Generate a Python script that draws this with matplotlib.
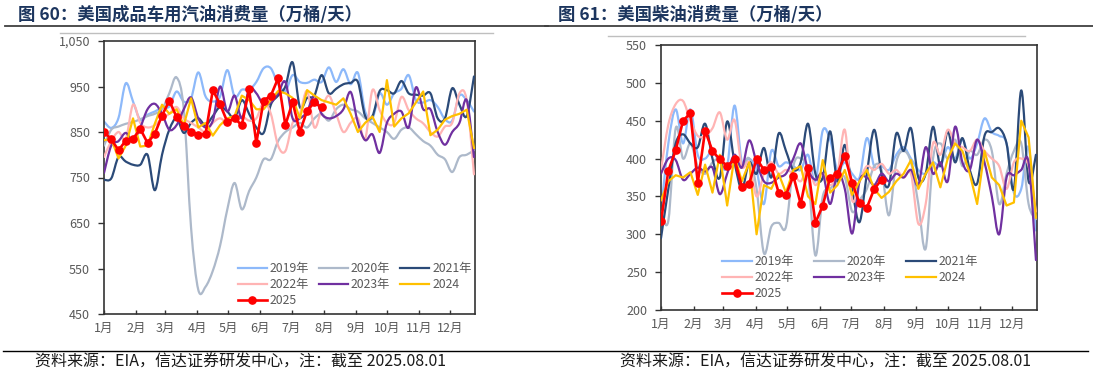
import numpy as np
import matplotlib
matplotlib.use("Agg")
import matplotlib.pyplot as plt
from matplotlib.path import Path
from matplotlib.patches import PathPatch
from matplotlib.lines import Line2D
from matplotlib.ticker import FuncFormatter

plt.rcParams['font.family'] = ['Noto Sans CJK SC', 'DejaVu Sans']

# ---------------- data ----------------
weeks = list(range(1, 53))
month_labels = ["1月", "2月", "3月", "4月", "5月", "6月", "7月", "8月", "9月", "10月", "11月", "12月"]
month_start_days = [0, 31, 59, 90, 120, 151, 181, 212, 243, 273, 304, 334]
series_names = ["2019年", "2020年", "2021年", "2022年", "2023年", "2024", "2025"]

# Gasoline (万桶/天)
gas_2019 = [873, 859, 881, 957, 917, 877, 888, 895, 903, 906, 939, 917, 924, 981, 928, 917, 928, 986,
            928, 943, 943, 960, 990, 990, 955, 940, 975, 960, 958, 965, 960, 992, 960, 988, 955, 980,
            895, 880, 935, 910, 935, 945, 975, 920, 915, 920, 905, 878, 875, 930, 920, 895]
gas_2020 = [820, 855, 862, 868, 872, 878, 885, 890, 900, 935, 970, 900, 640, 503, 510, 545, 600, 680,
            738, 680, 720, 750, 790, 790, 830, 850, 860, 870, 860, 880, 890, 875, 900, 910, 900, 895,
            880, 870, 860, 850, 835, 855, 860, 845, 830, 820, 800, 790, 762, 795, 800, 810]
gas_2021 = [745, 748, 795, 785, 778, 778, 800, 722, 800, 855, 880, 848, 870, 880, 865, 885, 905, 895,
            880, 920, 890, 860, 848, 910, 930, 950, 1003, 905, 925, 930, 975, 935, 945, 955, 958, 960,
            885, 885, 940, 942, 935, 962, 935, 932, 930, 935, 880, 880, 946, 910, 885, 972]
gas_2022 = [795, 830, 850, 835, 910, 870, 860, 865, 880, 890, 905, 880, 870, 860, 850, 870, 880, 870,
            880, 885, 875, 880, 915, 890, 820, 808, 870, 890, 940, 860, 900, 930, 890, 850, 870, 880,
            835, 942, 898, 870, 870, 927, 898, 880, 869, 850, 840, 862, 870, 935, 920, 757]
gas_2023 = [760, 820, 830, 848, 830, 860, 900, 912, 890, 855, 865, 900, 926, 880, 860, 875, 950, 895,
            930, 880, 945, 935, 910, 915, 935, 960, 880, 880, 895, 930, 890, 880, 885, 900, 938, 870,
            832, 845, 804, 870, 890, 895, 860, 948, 900, 900, 850, 822, 850, 870, 920, 795]
gas_2024 = [832, 835, 792, 820, 880, 818, 820, 868, 910, 890, 900, 865, 924, 860, 870, 842, 865, 880,
            885, 930, 920, 900, 900, 920, 940, 935, 925, 880, 942, 930, 920, 915, 910, 924, 890, 850,
            870, 884, 850, 964, 862, 880, 891, 915, 939, 843, 855, 877, 885, 890, 899, 815]
gas_2025 = [850, 834, 810, 831, 835, 857, 826, 846, 886, 919, 883, 864, 851, 844, 846, 942, 911, 872,
            880, 865, 944, 826, 919, 930, 968, 865, 916, 850, 897, 915, 904]

# Diesel (万桶/天)
dsl_2019 = [330, 420, 465, 420, 465, 405, 400, 410, 395, 390, 470, 395, 400, 385, 340, 410, 390, 395,
            390, 385, 405, 370, 437, 425, 385, 395, 380, 375, 427, 390, 390, 385, 405, 415, 400, 385,
            380, 395, 390, 415, 400, 425, 400, 420, 453, 435, 430, 420, 355, 360, 415, 305]
dsl_2020 = [330, 318, 440, 400, 420, 390, 380, 395, 400, 390, 395, 390, 400, 360, 275, 310, 315, 310,
            390, 400, 380, 272, 350, 360, 370, 375, 330, 345, 360, 390, 385, 325, 395, 410, 395, 340,
            281, 400, 420, 400, 425, 390, 410, 405, 425, 410, 340, 380, 410, 420, 340, 320]
dsl_2021 = [295, 360, 420, 432, 420, 415, 446, 400, 375, 449, 395, 360, 395, 380, 414, 375, 433, 410,
            385, 395, 446, 380, 375, 436, 370, 418, 360, 316, 380, 438, 380, 365, 433, 410, 440, 375,
            380, 442, 390, 436, 395, 427, 385, 367, 430, 435, 440, 420, 360, 490, 370, 405]
dsl_2022 = [385, 445, 472, 476, 450, 430, 430, 440, 461, 425, 451, 390, 395, 350, 380, 395, 380, 385,
            380, 370, 388, 365, 380, 365, 380, 438, 345, 370, 390, 385, 393, 380, 385, 375, 380, 314,
            340, 420, 405, 438, 420, 415, 410, 425, 410, 400, 390, 360, 395, 400, 390, 330]
dsl_2023 = [380, 400, 398, 372, 380, 388, 383, 388, 353, 380, 405, 388, 424, 395, 370, 368, 375, 380,
            400, 420, 385, 372, 380, 340, 380, 360, 301, 370, 375, 365, 380, 370, 380, 375, 385, 365,
            415, 380, 395, 370, 442, 395, 385, 425, 395, 350, 300, 375, 378, 385, 395, 266]
dsl_2024 = [345, 370, 378, 375, 382, 352, 392, 355, 405, 338, 403, 370, 395, 300, 365, 360, 380, 355,
            385, 390, 350, 340, 398, 355, 365, 385, 352, 370, 385, 360, 348, 356, 370, 380, 398, 360,
            380, 395, 362, 400, 420, 410, 380, 340, 410, 375, 365, 338, 342, 450, 428, 322]
dsl_2025 = [317, 384, 411, 450, 460, 368, 437, 410, 399, 390, 399, 363, 367, 400, 385, 389, 355, 352,
            377, 340, 388, 315, 338, 375, 380, 404, 368, 341, 335, 360, 372]

# ---------------- style ----------------
colors = ["#8DB9FA", "#ADB9CA", "#2B4A78", "#FFB4B4", "#7030A0", "#FFC000", "#FF0000"]
smooth_flags = [True, True, True, True, True, False, False]
TEXT_GRAY = "#595959"
SPINE = "#333333"
TITLE_C = "#1C355E"
# legend fills column-wise; this order shows the entries row by row
legend_order = [0, 3, 6, 1, 4, 2, 5]


def smooth_path(x, y):
    n = len(x)
    verts = [(x[0], y[0])]
    codes = [Path.MOVETO]
    for i in range(n - 1):
        p0 = i - 1 if i > 0 else i
        p3 = i + 2 if i + 2 < n else i + 1
        c1 = (x[i] + (x[i + 1] - x[p0]) / 6.0, y[i] + (y[i + 1] - y[p0]) / 6.0)
        c2 = (x[i + 1] - (x[p3] - x[i]) / 6.0, y[i + 1] - (y[p3] - y[i]) / 6.0)
        verts += [c1, c2, (x[i + 1], y[i + 1])]
        codes += [Path.CURVE4] * 3
    return Path(verts, codes)


def draw_panel(ax, data, ylim, yticks, fmt_thousands):
    handles = []
    for k, (vals, name) in enumerate(zip(data, series_names)):
        xs = (np.array(weeks[:len(vals)]) - 1) * 7.0
        ys = np.array(vals, dtype=float)
        col = colors[k]
        if name == "2025":
            ax.plot(xs, ys, color=col, lw=1.9, marker='o', markersize=5.2, zorder=10)
            h = Line2D([], [], color=col, lw=1.9, marker='o', markersize=5.2)
        elif smooth_flags[k]:
            patch = PathPatch(smooth_path(xs, ys), facecolor='none', edgecolor=col, lw=1.6,
                              zorder=2 + k, capstyle='round', joinstyle='round')
            ax.add_patch(patch)
            h = Line2D([], [], color=col, lw=1.6)
        else:
            ax.plot(xs, ys, color=col, lw=1.6, zorder=2 + k)
            h = Line2D([], [], color=col, lw=1.6)
        handles.append(h)
    ax.set_xlim(0, 358)
    ax.set_ylim(*ylim)
    ax.set_yticks(yticks)
    if fmt_thousands:
        ax.yaxis.set_major_formatter(FuncFormatter(lambda v, p: f"{int(v):,}"))
    ax.set_xticks(month_start_days)
    ax.set_xticklabels(month_labels)
    ax.tick_params(axis='y', direction='out', length=4, width=1, colors=SPINE,
                   labelcolor=TEXT_GRAY, labelsize=9, pad=6)
    ax.tick_params(axis='x', direction='in', length=3, width=1, colors=SPINE,
                   labelcolor=TEXT_GRAY, labelsize=9, pad=6)
    for s in ax.spines.values():
        s.set_color(SPINE)
        s.set_linewidth(1.2)
    return handles


fig = plt.figure(figsize=(10.93, 3.75), dpi=100)
W, H = 1093.0, 375.0


def fx(px):
    return px / W


def fy(py):
    return 1 - py / H


# left panel
axL = fig.add_axes([fx(104), fy(314), fx(475 - 104), (314 - 41) / H])
hL = draw_panel(axL, [gas_2019, gas_2020, gas_2021, gas_2022, gas_2023, gas_2024, gas_2025],
                (450, 1050), list(range(450, 1051, 100)), True)
axL.legend([hL[i] for i in legend_order], [series_names[i] for i in legend_order],
           ncol=3, loc='upper left', bbox_to_anchor=(0.337, 0.222),
           frameon=False, fontsize=8.8, labelcolor=TEXT_GRAY, handlelength=2.4,
           handletextpad=0.25, columnspacing=0.75, labelspacing=0.25, borderpad=0.2)

# right panel
axR = fig.add_axes([fx(661), fy(310), fx(1037 - 661), (310 - 45) / H])
hR = draw_panel(axR, [dsl_2019, dsl_2020, dsl_2021, dsl_2022, dsl_2023, dsl_2024, dsl_2025],
                (200, 550), list(range(200, 551, 50)), False)
axR.legend([hR[i] for i in legend_order], [series_names[i] for i in legend_order],
           ncol=3, loc='upper left', bbox_to_anchor=(0.14, 0.24),
           frameon=False, fontsize=8.8, labelcolor=TEXT_GRAY, handlelength=2.4,
           handletextpad=0.25, columnspacing=1.65, labelspacing=0.25, borderpad=0.2)

# titles
fig.text(fx(18), fy(15), "图 60：美国成品车用汽油消费量（万桶/天）", fontsize=12.5, fontweight='bold',
         color=TITLE_C, va='center', ha='left')
fig.text(fx(558), fy(15), "图 61：美国柴油消费量（万桶/天）", fontsize=12.5, fontweight='bold',
         color=TITLE_C, va='center', ha='left')

# decorative rules
fig.add_artist(Line2D([fx(5), fx(548)], [fy(25.5), fy(25.5)], color="#404040", lw=1.3))
fig.add_artist(Line2D([fx(545), fx(1093)], [fy(25.5), fy(25.5)], color="#404040", lw=1.3))
fig.add_artist(Line2D([fx(60), fx(493)], [fy(33), fy(33)], color="#BFBFBF", lw=1.0))
fig.add_artist(Line2D([fx(608), fx(1025)], [fy(36), fy(36)], color="#BFBFBF", lw=1.0))
fig.add_artist(Line2D([fx(3), fx(1088)], [fy(351), fy(351)], color="#000000", lw=1.0))

# footers
foot = "资料来源：EIA，信达证券研发中心，注：截至 2025.08.01"
fig.text(fx(35), fy(362), foot, fontsize=11.5, style='italic', color="#1a1a1a", va='center', ha='left')
fig.text(fx(620), fy(362), foot, fontsize=11.5, style='italic', color="#1a1a1a", va='center', ha='left')

fig.savefig("out.png", dpi=100)
